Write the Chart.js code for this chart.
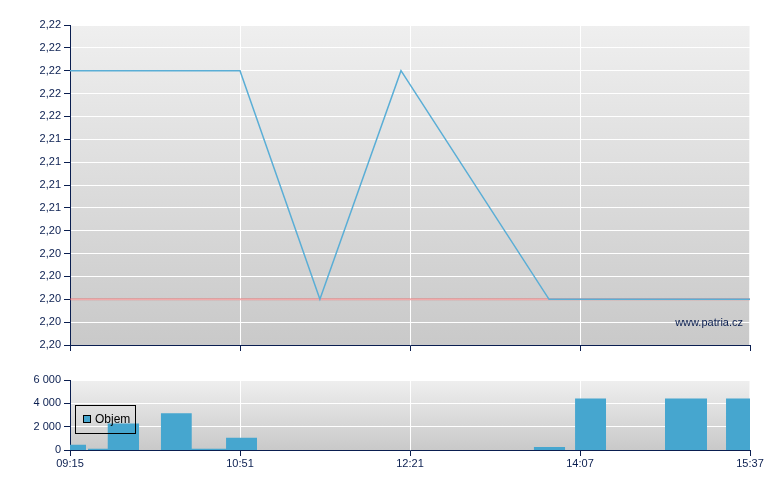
<!DOCTYPE html>
<html>
<head>
<meta charset="utf-8">
<script src="https://cdn.jsdelivr.net/npm/chart.js@4.4.0/dist/chart.umd.min.js"></script>
<style>
  body { margin: 0; background: #fff; }
  #wrap { position: relative; width: 780px; height: 490px; }
  #price-chart { position: absolute; left: 0; top: 0; }
  #volume-chart { position: absolute; left: 0; top: 360px; }
</style>
</head>
<body>
<div id="wrap">
  <canvas id="price-chart" width="780" height="360"></canvas>
  <canvas id="volume-chart" width="780" height="130"></canvas>
</div>
<script>
// x axis runs in label slots: 0 = first label, 4 = last label
const timeLabels = ['09:15', '10:51', '12:21', '14:07', '15:37'];

// price line (slot position, price)
const priceX = [0, 1.0, 1.47, 1.947, 2.818, 4.0];
const priceY = [2.22, 2.22, 2.20, 2.22, 2.20, 2.20];
const prevClose = 2.20;

// y tick labels, bottom to top
const priceTicks = ['2,20', '2,20', '2,20', '2,20', '2,20', '2,20',
                    '2,21', '2,21', '2,21', '2,21',
                    '2,22', '2,22', '2,22', '2,22', '2,22'];
const priceMin = 2.196;
const priceStep = 0.002;

// volume bars: start slot, end slot, value
const volStart = [0, 0.106, 0.222, 0.535, 0.716, 0.918, 2.729, 2.971, 3.5, 3.859];
const volEnd = [0.094, 0.222, 0.406, 0.716, 0.918, 1.1, 2.912, 3.153, 3.747, 4.0];
const volValue = [450, 100, 2280, 3140, 100, 1040, 260, 4420, 4420, 4420];
const volTicks = ['0', '2 000', '4 000', '6 000'];

const navy = '#0a1e50';
const font = { family: 'Liberation Sans', size: 11 };

// plot background gradient
const bgPlugin = {
  id: 'bg',
  beforeDraw(chart) {
    const { ctx, chartArea: a } = chart;
    const g = ctx.createLinearGradient(0, a.top, 0, a.bottom);
    g.addColorStop(0, '#efefef');
    g.addColorStop(1, '#c9c9c9');
    ctx.save();
    ctx.fillStyle = g;
    ctx.fillRect(a.left, a.top, a.right - a.left, a.bottom - a.top);
    ctx.strokeStyle = '#f6f6f6';
    ctx.strokeRect(a.left + 0.5, a.top + 0.5, a.right - a.left - 1, a.bottom - a.top);
    ctx.restore();
  }
};

function fixWidth(w) { return function (axis) { axis.width = w; }; }
function fixHeight(h) { return function (axis) { axis.height = h; }; }

// Price chart
new Chart(document.getElementById('price-chart'), {
  type: 'line',
  data: {
    datasets: [
      {
        label: 'Cena',
        data: priceX.map((x, i) => ({ x: x, y: priceY[i] })),
        borderColor: '#5aaed6',
        borderWidth: 1.5,
        pointRadius: 0,
        tension: 0
      },
      {
        label: 'Předchozí',
        data: [{ x: 0, y: prevClose }, { x: 4, y: prevClose }],
        borderColor: 'rgba(232,100,100,0.55)',
        borderWidth: 2,
        pointRadius: 0
      }
    ]
  },
  options: {
    responsive: false,
    animation: false,
    devicePixelRatio: 1,
    layout: { padding: { top: 25, right: 30, left: 0, bottom: 0 } },
    plugins: { legend: { display: false }, tooltip: { enabled: false } },
    scales: {
      x: {
        type: 'linear',
        min: 0, max: 4,
        afterFit: fixHeight(15),
        ticks: { stepSize: 1, callback: () => '', font: font },
        grid: { color: '#ffffff', tickColor: navy, tickLength: 6 },
        border: { color: navy }
      },
      y: {
        min: priceMin, max: priceMin + priceStep * 14,
        afterFit: fixWidth(70),
        ticks: {
          stepSize: priceStep,
          color: navy,
          font: font,
          padding: 3,
          autoSkip: false,
          callback: (v) => priceTicks[Math.round((v - priceMin) / priceStep)]
        },
        grid: { color: '#ffffff', tickColor: navy, tickLength: 6 },
        border: { color: navy }
      }
    }
  },
  plugins: [bgPlugin, {
    id: 'watermark',
    afterDatasetsDraw(chart) {
      const { ctx, chartArea: a } = chart;
      ctx.save();
      ctx.font = '11px "Liberation Sans"';
      ctx.fillStyle = navy;
      ctx.textAlign = 'right';
      ctx.textBaseline = 'middle';
      ctx.fillText('www.patria.cz', a.right - 7, a.bottom - 22);
      ctx.restore();
    }
  }]
});

// Volume chart: bars drawn as a stepped filled line so each bar keeps its own width
const volPoints = [];
volStart.forEach((s, i) => {
  volPoints.push({ x: s, y: volValue[i] });
  volPoints.push({ x: volEnd[i], y: 0 });
});

new Chart(document.getElementById('volume-chart'), {
  type: 'line',
  data: {
    datasets: [{
      label: 'Objem',
      data: volPoints,
      stepped: true,
      fill: 'origin',
      backgroundColor: '#46a6cf',
      borderWidth: 0,
      pointRadius: 0
    }]
  },
  options: {
    responsive: false,
    animation: false,
    devicePixelRatio: 1,
    layout: { padding: { top: 20, right: 30, left: 0, bottom: 0 } },
    plugins: { legend: { display: false }, tooltip: { enabled: false } },
    scales: {
      x: {
        type: 'linear',
        min: 0, max: 4,
        afterFit: fixHeight(40),
        ticks: {
          stepSize: 1,
          color: navy,
          font: font,
          padding: 1,
          maxRotation: 0,
          callback: (v) => timeLabels[Math.round(v)]
        },
        grid: { color: '#ffffff', tickColor: navy, tickLength: 6 },
        border: { color: navy }
      },
      y: {
        min: 0, max: 6000,
        afterFit: fixWidth(70),
        ticks: {
          stepSize: 2000,
          color: navy,
          font: font,
          padding: 3,
          callback: (v) => volTicks[Math.round(v / 2000)]
        },
        grid: { color: '#ffffff', tickColor: navy, tickLength: 6 },
        border: { color: navy }
      }
    }
  },
  plugins: [bgPlugin, {
    id: 'boxLegend',
    afterDraw(chart) {
      const ctx = chart.ctx;
      const left = chart.chartArea.left + 5;
      const top = chart.chartArea.top + 25;
      ctx.save();
      ctx.strokeStyle = '#000';
      ctx.lineWidth = 1;
      ctx.strokeRect(left + 0.5, top + 0.5, 60, 28);
      ctx.fillStyle = chart.data.datasets[0].backgroundColor;
      ctx.fillRect(left + 8.5, top + 10.5, 7, 7);
      ctx.strokeRect(left + 8.5, top + 10.5, 7, 7);
      ctx.fillStyle = '#000';
      ctx.font = '12px "Liberation Sans"';
      ctx.textBaseline = 'middle';
      ctx.fillText(chart.data.datasets[0].label, left + 20, top + 15);
      ctx.restore();
    }
  }]
});
</script>
</body>
</html>
